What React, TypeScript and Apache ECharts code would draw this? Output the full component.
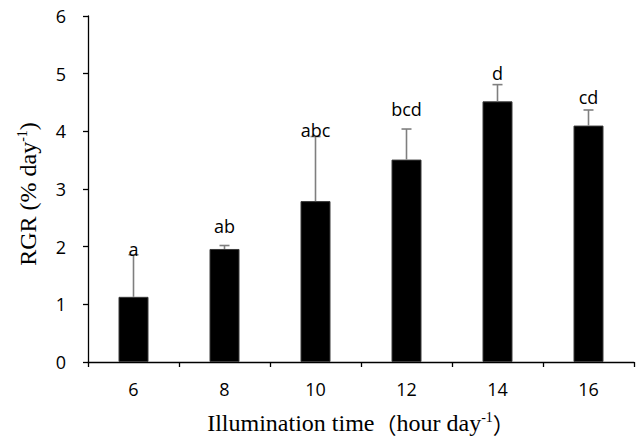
import React, { useEffect, useRef } from "react";
import * as echarts from "echarts";

const categories = ["6", "8", "10", "12", "14", "16"];
const rgrValues = [1.13, 1.96, 2.79, 3.51, 4.52, 4.1];
const errorTops = [1.86, 2.02, 3.91, 4.04, 4.81, 4.37];
const letters = ["a", "ab", "abc", "bcd", "d", "cd"];
const letterHeights = [1.96, 2.35, 4.03, 4.39, 5.02, 4.6];
const yTicks = [0, 1, 2, 3, 4, 5, 6];

export default function App() {
  const ref = useRef<HTMLDivElement>(null);
  useEffect(() => {
    if (!ref.current) return;
    const chart = echarts.init(ref.current, null, { renderer: "svg" });
    const sans = "'Open Sans', 'Noto Sans', sans-serif";
    const serif = "'Liberation Serif', 'Times New Roman', serif";
    const cjk = "'Noto Sans CJK SC', sans-serif";
    const richName = {
      s: { fontSize: 14, fontFamily: serif, color: "#000", verticalAlign: "top", padding: [0, 0, 11, 0] },
      p: { fontSize: 22, fontFamily: cjk, color: "#000" },
    };
    chart.setOption({
      animation: false,
      backgroundColor: "#fff",
      grid: { left: 88, right: 4, top: 16, bottom: 80 },
      xAxis: {
        type: "category",
        data: categories,
        boundaryGap: true,
        axisLine: { lineStyle: { color: "#000", width: 1.3 } },
        axisTick: { show: true, alignWithLabel: false, inside: false, length: 5, lineStyle: { color: "#000", width: 1.3 } },
        axisLabel: { color: "#000", fontSize: 18, fontFamily: sans, margin: 18 },
        name: "Illumination time{p|（}hour day{s|-1}{p|）}",
        nameLocation: "middle",
        nameGap: 48,
        nameTextStyle: {
          color: "#000",
          fontSize: 24,
          fontFamily: serif,
          rich: richName,
        },
      },
      yAxis: {
        type: "value",
        min: yTicks[0],
        max: yTicks[yTicks.length - 1],
        interval: 1,
        splitLine: { show: false },
        axisLine: { show: true, lineStyle: { color: "#000", width: 1.3 } },
        axisTick: { show: true, length: 5, lineStyle: { color: "#000", width: 1.3 } },
        axisLabel: { color: "#000", fontSize: 18, fontFamily: sans, margin: 22 },
        name: "RGR (% day{s|-1})",
        nameLocation: "middle",
        nameGap: 48,
        nameTextStyle: {
          color: "#000",
          fontSize: 24,
          fontFamily: serif,
          padding: [0, 10, 0, 0],
          rich: richName,
        },
      },
      series: [
        {
          type: "bar",
          data: rgrValues,
          barWidth: 30,
          itemStyle: { color: "#000", borderColor: "#3a3a3a", borderWidth: 1 },
          z: 2,
        },
        {
          type: "custom",
          data: rgrValues.map((v, i) => [i, v, errorTops[i]]),
          z: 3,
          renderItem: (params: any, api: any) => {
            const base = api.coord([api.value(0), api.value(1)]);
            const top = api.coord([api.value(0), api.value(2)]);
            const half = 5;
            const style = { stroke: "#7f7f7f", lineWidth: 1.6 };
            return {
              type: "group",
              children: [
                { type: "line", shape: { x1: base[0], y1: base[1], x2: top[0], y2: top[1] }, style },
                { type: "line", shape: { x1: top[0] - half, y1: top[1], x2: top[0] + half, y2: top[1] }, style },
              ],
            };
          },
        },
        {
          type: "scatter",
          data: letterHeights.map((v, i) => [i, v]),
          symbolSize: 0,
          z: 4,
          itemStyle: { opacity: 1 },
          label: {
            show: true,
            position: "inside",
            formatter: (p: any) => letters[p.dataIndex],
            color: "#000",
            fontSize: 18,
            fontFamily: sans,
          },
        },
      ],
    });
    return () => chart.dispose();
  }, []);
  return (
    <div
      ref={ref}
      style={{ position: "fixed", left: 0, top: 0, width: 638, height: 442, background: "#fff" }}
    />
  );
}
